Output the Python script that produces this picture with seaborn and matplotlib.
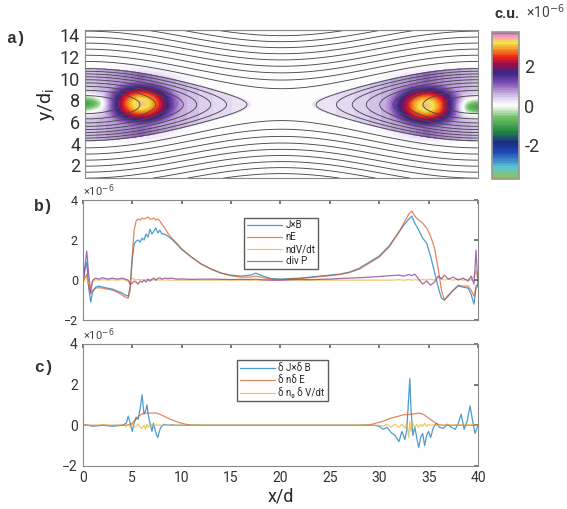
import numpy as np
import pandas as pd
import seaborn as sns
import matplotlib.pyplot as plt
from matplotlib.colors import LinearSegmentedColormap

# ---- panel b data (units of 1e-6) ----
x_b = [0, 0.2, 0.4, 0.6, 0.8, 1.0, 1.3, 1.6, 2.0, 2.5, 3.0, 3.5, 4.0, 4.3, 4.6, 4.8,
       5.0, 5.2, 5.4, 5.6, 5.8, 6.0, 6.2, 6.4, 6.6, 6.8, 7.0, 7.2, 7.4, 7.6, 7.8,
       8.0, 8.3, 8.6, 9.0, 9.5, 10, 11, 12, 13, 14, 15, 16, 17, 17.5, 18, 19, 20,
       21, 22, 23, 24, 25, 26, 27, 28, 29, 30, 31, 32, 32.5, 33, 33.3, 33.6, 34,
       34.4, 34.8, 35.2, 35.6, 36, 36.3, 36.6, 37, 37.5, 38, 38.5, 39, 39.3, 39.6,
       39.8, 40]
jxb = [-0.3, 0.5, 0.9, -0.4, -1.1, -0.6, -0.35, -0.3, -0.35, -0.4, -0.45, -0.55,
       -0.65, -0.75, -0.8, -0.3, 1.0, 1.8, 1.95, 2.0, 1.9, 2.1, 2.0, 2.3, 2.15, 2.55,
       2.3, 2.45, 2.6, 2.35, 2.5, 2.3, 2.3, 2.2, 2.05, 1.8, 1.55, 1.15, 0.8, 0.55,
       0.35, 0.25, 0.2, 0.25, 0.35, 0.25, 0.08, 0.05, 0.08, 0.1, 0.15, 0.2, 0.25,
       0.3, 0.4, 0.6, 0.9, 1.2, 1.7, 2.4, 2.75, 3.05, 3.2, 2.85, 2.5, 2.1, 1.85,
       1.2, 0.4, -0.4, -0.9, -1.0, -0.75, -0.5, -0.3, -0.35, -0.4, -0.7, -1.2,
       -0.3, -0.2]
ne = [-0.2, 0.1, 0.3, -0.3, -0.7, -0.5, -0.4, -0.38, -0.4, -0.45, -0.5, -0.6,
      -0.75, -0.85, -0.9, -0.5, 1.2, 2.5, 2.95, 3.05, 3.0, 3.1, 3.05, 3.1, 3.15,
      3.05, 3.05, 3.1, 3.0, 3.05, 2.95, 2.8, 2.6, 2.35, 2.1, 1.85, 1.55, 1.15, 0.8,
      0.55, 0.35, 0.22, 0.15, 0.15, 0.2, 0.15, 0.05, 0.03, 0.05, 0.08, 0.12, 0.18,
      0.22, 0.28, 0.38, 0.55, 0.85, 1.15, 1.65, 2.4, 2.85, 3.3, 3.45, 3.2, 3.0,
      2.85, 2.6, 2.2, 1.6, 0.5, -0.5, -1.0, -0.8, -0.5, -0.25, -0.3, -0.3, -0.5,
      -0.8, -0.4, -0.3]
ndvdt = [0.0, 0.2, 0.1, -0.2, -0.3, -0.1, 0.02, 0.0, 0.03, 0.0, 0.02, 0.0, 0.03,
         0.0, -0.05, -0.1, 0.1, 0.05, 0.0, 0.05, 0.0, 0.03, 0.0, 0.02, 0.0, 0.03,
         0.0, 0.02, 0.0, 0.01, 0.0, 0.01, 0.0, 0.01, 0.0, 0.0, 0.0, 0.0, 0.0, 0.0,
         0.0, 0.0, 0.0, 0.0, 0.0, 0.0, 0.0, 0.0, 0.0, 0.0, 0.0, 0.0, 0.0, 0.0, 0.0,
         0.0, 0.0, 0.0, 0.0, 0.02, 0.0, 0.03, 0.0, 0.02, 0.0, 0.03, 0.0, 0.05, 0.0,
         0.2, 0.1, 0.0, 0.05, 0.0, 0.05, 0.0, 0.05, 0.0, 0.2, 0.5, 0.1]
divp = [-0.2, 0.6, 1.45, 0.3, -0.6, 0.0, 0.1, 0.05, 0.12, 0.05, 0.1, 0.05, 0.1,
        0.05, 0.0, -0.2, -0.15, -0.05, -0.1, -0.2, -0.05, -0.1, 0.0, -0.1, 0.05,
        -0.05, 0.05, 0.1, 0.0, 0.08, 0.12, 0.05, 0.1, 0.08, 0.1, 0.05, 0.06, 0.04,
        0.05, 0.05, 0.04, 0.03, 0.04, 0.03, 0.05, 0.02, 0.0, 0.0, 0.02, 0.03, 0.02,
        0.04, 0.05, 0.08, 0.1, 0.12, 0.15, 0.18, 0.22, 0.25, 0.2, 0.28, 0.22, 0.3,
        0.05, -0.2, -0.05, -0.25, -0.1, 0.2, 0.05, 0.25, 0.05, 0.15, 0.0, 0.1,
        -0.05, 0.2, -0.2, 1.5, -0.3]
labels_b = ['J×B', 'nE', 'ndV/dt', 'div P']

# ---- panel c data (units of 1e-6) ----
x_c = [0, 1, 2, 3, 4, 4.4, 4.6, 4.8, 5.0, 5.2, 5.4, 5.6, 5.8, 6.0, 6.1, 6.2, 6.35,
       6.5, 6.6, 6.75, 6.9, 7.0, 7.15, 7.3, 7.45, 7.6, 7.75, 7.9, 8.2, 8.6, 9, 9.5,
       10, 10.5, 11, 12, 14, 16, 18, 20, 22, 24, 26, 28, 29, 29.5, 30, 30.4, 30.8,
       31.2, 31.6, 32.0, 32.3, 32.6, 32.8, 33.0, 33.1, 33.2, 33.4, 33.6, 33.8, 34.0,
       34.2, 34.4, 34.6, 34.8, 35.0, 35.2, 35.5, 35.8, 36.1, 36.5, 36.9, 37.3, 37.7,
       38.0, 38.3, 38.6, 38.9, 39.2, 39.5, 39.7, 40]
djdb = [0.05, -0.05, 0.0, -0.05, 0.0, 0.1, 0.45, 0.1, -0.3, 0.1, 0.4, 0.3, 0.8,
        1.5, 1.0, 0.55, 0.7, 1.0, 0.6, 0.2, -0.1, -0.3, 0.1, -0.2, -0.45, -0.6,
        -0.3, -0.1, 0.05, 0.0, 0.02, 0.0, 0.0, 0.0, 0.0, 0.0, 0.0, 0.0, 0.0, 0.0,
        0.0, 0.0, 0.0, 0.0, 0.0, 0.0, -0.05, -0.2, -0.1, -0.35, -0.5, -0.8, -0.3,
        -0.7, -0.2, 1.5, 2.3, 1.0, -0.5, -0.1, -0.6, -1.1, -0.6, -0.4, -1.0, -0.5,
        -0.3, -0.6, -0.1, 0.1, -0.1, -0.15, 0.05, -0.1, -0.2, 0.1, 0.55, -0.2, 0.2,
        0.95, 0.1, -0.4, 0.0]
dnde = [0.0, 0.0, 0.0, 0.0, 0.0, 0.0, 0.02, 0.05, 0.1, 0.2, 0.3, 0.4, 0.5, 0.55,
        0.58, 0.6, 0.6, 0.6, 0.6, 0.6, 0.6, 0.6, 0.6, 0.6, 0.6, 0.58, 0.55, 0.52,
        0.45, 0.35, 0.27, 0.18, 0.1, 0.04, 0.01, 0.0, 0.0, 0.0, 0.0, 0.0, 0.0, 0.0,
        0.0, 0.0, 0.02, 0.08, 0.15, 0.2, 0.28, 0.35, 0.4, 0.45, 0.5, 0.52, 0.52,
        0.53, 0.53, 0.55, 0.55, 0.56, 0.58, 0.6, 0.58, 0.55, 0.5, 0.42, 0.35, 0.28,
        0.18, 0.08, 0.02, 0.0, 0.0, 0.0, 0.0, 0.0, 0.0, 0.0, 0.0, 0.0, 0.0, 0.0, 0.0]
dndv = [0.03, -0.03, 0.02, -0.02, 0.02, -0.05, 0.05, -0.05, 0.05, -0.1, -0.05,
        0.05, -0.1, -0.15, -0.05, 0.0, -0.2, 0.05, -0.1, 0.0, -0.05, 0.05, -0.05,
        0.0, 0.02, 0.0, 0.02, 0.0, 0.0, 0.0, 0.0, 0.0, 0.0, 0.0, 0.0, 0.0, 0.0, 0.0,
        0.0, 0.0, 0.0, 0.0, 0.0, 0.0, 0.0, 0.0, 0.0, -0.05, 0.05, -0.1, 0.05, -0.1,
        0.05, -0.15, 0.1, -0.6, 0.2, -0.3, 0.1, -0.1, 0.05, -0.1, 0.05, -0.05, 0.1,
        -0.05, 0.05, 0.0, 0.02, 0.0, 0.02, 0.0, 0.02, 0.0, 0.02, 0.0, 0.03, 0.0,
        0.03, 0.0, 0.05, 0.0, 0.0]
labels_c = ['δ J×δ B', 'δ nδ E', 'δ n₀ δ V/dt']

# ---- panel a: model field parameters ----
sheet_y, sheet_w, pert, box_len = 7.6, 2.2, 0.47, 35.0
blob_x = [5.0, 30.4]
blob_y = [7.7, 7.5]
blob_amp = [3.3, 3.3]
edge_x = [0.0, 35.0]
edge_y = [7.7, 7.4]
edge_amp = [-1.5, -1.5]
vlim = 3.7

matlab = ['#0072BD', '#D95319', '#EDB120', '#7E2F8E']

sns.set_theme(style='white')
plt.rcParams['font.family'] = ['Roboto', 'DejaVu Sans']
plt.rcParams['contour.negative_linestyle'] = 'solid'

fig = plt.figure(figsize=(5.67, 5.09), dpi=100)
ax_a = fig.add_axes([0.150, 0.650, 0.693, 0.291])
cax = fig.add_axes([0.868, 0.648, 0.048, 0.289])
ax_b = fig.add_axes([0.146, 0.371, 0.697, 0.236])
ax_c = fig.add_axes([0.146, 0.0845, 0.697, 0.240])

# colormap similar to the original
stops = [(0.0, (0.60, 0.75, 0.25)), (0.08, (0.35, 0.78, 0.85)), (0.18, (0.12, 0.28, 0.72)),
         (0.25, (0.10, 0.18, 0.50)), (0.33, (0.15, 0.55, 0.25)), (0.42, (0.45, 0.76, 0.40)),
         (0.5, (1.0, 1.0, 1.0)), (0.56, (0.86, 0.80, 0.93)), (0.65, (0.52, 0.32, 0.72)),
         (0.72, (0.22, 0.15, 0.52)), (0.78, (0.58, 0.06, 0.32)), (0.83, (0.92, 0.12, 0.10)),
         (0.88, (0.96, 0.55, 0.12)), (0.93, (0.96, 0.90, 0.30)), (0.97, (0.96, 0.62, 0.70)),
         (1.0, (0.72, 0.38, 0.66))]
cmap = LinearSegmentedColormap.from_list('cu', stops)

xg = np.linspace(0, box_len, 351)
yg = np.linspace(0.8, 14.5, 275)
X, Y = np.meshgrid(xg, yg)
psi = np.log(np.cosh((Y - sheet_y) / sheet_w)) - pert * np.cos(2 * np.pi * X / box_len)

field = np.zeros_like(X)
inside = psi < 0.877 * pert
for bx, by, ba in zip(blob_x, blob_y, blob_amp):
    core = ba * np.exp(-((X - bx) / 2.8) ** 2 - ((Y - by) / 1.8) ** 2)
    side = (X < box_len / 2) if bx < box_len / 2 else (X > box_len / 2)
    wedge = 1.0 * np.exp(-np.abs(X - bx) / 6.5) * (inside & side)
    field += np.maximum(core, wedge)
for ex, ey, ea in zip(edge_x, edge_y, edge_amp):
    field += ea * np.exp(-((X - ex) / 1.9) ** 2 - ((Y - ey) / 0.8) ** 2)
field = np.clip(field, -vlim, vlim)

cf = ax_a.contourf(X, Y, field, levels=np.linspace(-vlim, vlim, 90), cmap=cmap,
                   vmin=-vlim, vmax=vlim)
lev = list(np.arange(-0.40, 0.45, 0.1)) + list(np.arange(0.68, 3.2, 0.25))
ax_a.contour(X, Y, psi, levels=lev, colors='#4a4a4a', linewidths=0.65)
ax_a.set_xlim(0, box_len)
ax_a.set_ylim(0.8, 14.5)
ax_a.set_xticks(range(5, 35, 5))
ax_a.set_xticklabels([])
ax_a.set_yticks(range(2, 16, 2))
ax_a.tick_params(labelsize=13)
ax_a.set_ylabel('y/d$_\\mathregular{i}$', fontsize=14, labelpad=2)

cb = fig.colorbar(cf, cax=cax, ticks=[-2, 0, 2])
cb.ax.set_yticklabels(['-2', '0', '2'])
cb.ax.tick_params(labelsize=13, length=0, colors='#333')
cb.outline.set_edgecolor('#999')
fig.text(0.873, 0.958, 'c.u.', fontsize=11, weight='bold', color='#333', va='bottom')
fig.text(0.928, 0.958, '×10$^{-6}$', fontsize=10, color='#444', va='bottom')

# ---- panel b ----
df_b = pd.DataFrame({'x': x_b * 4, 'v': jxb + ne + ndvdt + divp,
                     'term': sum([[l] * len(x_b) for l in labels_b], [])})
sns.lineplot(data=df_b, x='x', y='v', hue='term', hue_order=labels_b, palette=matlab,
             estimator=None, sort=False, lw=0.9, alpha=0.7, ax=ax_b)
ax_b.set_xlim(0, 40)
ax_b.set_ylim(-2, 4)
ax_b.set_xticks(range(0, 45, 5))
ax_b.set_xticklabels([])
ax_b.set_yticks([-2, 0, 2, 4])
ax_b.set_xlabel('')
ax_b.set_ylabel('')
ax_b.tick_params(labelsize=9)
h, l = ax_b.get_legend_handles_labels()
ax_b.legend(h, l, loc='upper left', bbox_to_anchor=(0.395, 0.895), fontsize=7,
            handlelength=3.6, frameon=True, fancybox=False, edgecolor='#333',
            borderpad=0.3, labelspacing=0.2, handletextpad=0.4)

# ---- panel c ----
df_c = pd.DataFrame({'x': x_c * 3, 'v': djdb + dnde + dndv,
                     'term': sum([[l] * len(x_c) for l in labels_c], [])})
sns.lineplot(data=df_c, x='x', y='v', hue='term', hue_order=labels_c, palette=matlab[:3],
             estimator=None, sort=False, lw=0.9, alpha=0.7, ax=ax_c)
ax_c.set_xlim(0, 40)
ax_c.set_ylim(-2, 4)
ax_c.set_xticks(range(0, 45, 5))
ax_c.set_yticks([-2, 0, 2, 4])
ax_c.set_ylabel('')
ax_c.set_xlabel('x/d', fontsize=13, labelpad=2)
ax_c.tick_params(labelsize=10)
h, l = ax_c.get_legend_handles_labels()
ax_c.legend(h, l, loc='upper left', bbox_to_anchor=(0.377, 0.905), fontsize=7,
            handlelength=3.6, frameon=True, fancybox=False, edgecolor='#333',
            borderpad=0.3, labelspacing=0.2, handletextpad=0.4)

for ax in (ax_a, ax_b, ax_c):
    ax.tick_params(direction='in', top=True, right=True, length=3, color='#666',
                   labelcolor='#333')
    for s in ax.spines.values():
        s.set_edgecolor('#888')
        s.set_linewidth(0.8)
for ax in (ax_b, ax_c):
    ax.text(0.0, 1.01, '×10$^{-6}$', transform=ax.transAxes, fontsize=8, color='#444',
            va='bottom')

mono = ['Liberation Mono', 'DejaVu Sans Mono']
fig.text(0.01, 0.915, 'a)', fontsize=12, weight='bold', family=mono, color='#333')
fig.text(0.06, 0.585, 'b)', fontsize=12, weight='bold', family=mono, color='#333')
fig.text(0.06, 0.27, 'c)', fontsize=12, weight='bold', family=mono, color='#333')

fig.savefig('out.png', dpi=100)
